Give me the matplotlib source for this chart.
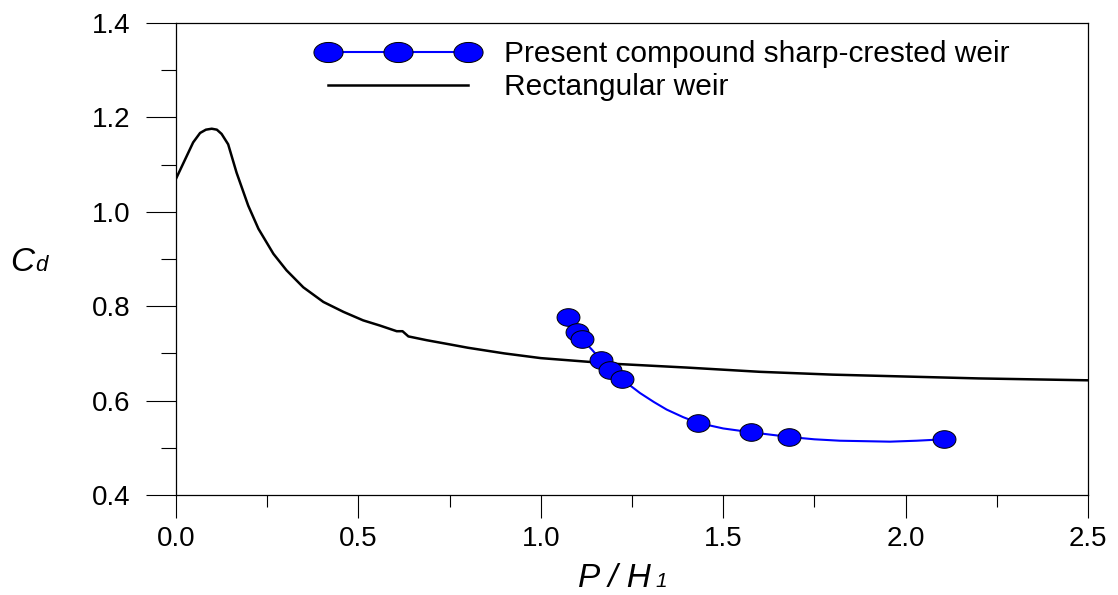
import numpy as np
import matplotlib
matplotlib.use("Agg")
import matplotlib.pyplot as plt
from matplotlib.path import Path
from matplotlib.lines import Line2D
from matplotlib.ticker import MultipleLocator, FormatStrFormatter

plt.rcParams['font.family'] = ['Liberation Sans', 'DejaVu Sans']

# Rectangular weir curve
rect_x = [0.0, 0.047, 0.066, 0.082, 0.098, 0.112, 0.125, 0.143, 0.166, 0.198, 0.226, 0.267,
          0.303, 0.349, 0.404, 0.459, 0.513, 0.559, 0.605, 0.621, 0.637, 0.687,
          0.751, 0.8, 0.9, 1.0, 1.2, 1.4, 1.6, 1.8, 2.0, 2.2, 2.5]
rect_y = [1.07, 1.147, 1.167, 1.174, 1.176, 1.174, 1.165, 1.143, 1.083, 1.013, 0.964, 0.911,
          0.876, 0.840, 0.809, 0.788, 0.770, 0.759, 0.747, 0.747, 0.736, 0.728,
          0.719, 0.712, 0.700, 0.690, 0.678, 0.670, 0.661, 0.655, 0.651, 0.647, 0.643]

# Present compound weir: measured points
pts_x = [1.075, 1.098, 1.112, 1.164, 1.190, 1.222, 1.430, 1.575, 1.681, 2.105]
pts_y = [0.778, 0.745, 0.731, 0.687, 0.664, 0.645, 0.552, 0.534, 0.522, 0.518]

# Present compound weir: fitted curve
fit_x = [1.075, 1.098, 1.112, 1.14, 1.164, 1.19, 1.222, 1.25, 1.272, 1.31, 1.345, 1.39,
         1.43, 1.50, 1.575, 1.681, 1.75, 1.82, 1.89, 1.957, 2.03, 2.105]
fit_y = [0.778, 0.745, 0.731, 0.708, 0.687, 0.664, 0.645, 0.629, 0.616, 0.597, 0.581, 0.565,
         0.553, 0.541, 0.533, 0.523, 0.518, 0.515, 0.514, 0.513, 0.515, 0.518]

legend_labels = ["Present compound sharp-crested weir", "Rectangular weir"]


def ellipse_marker(ratio):
    t = np.linspace(0, 2 * np.pi, 60)
    verts = np.column_stack([ratio * np.cos(t), np.sin(t)])
    return Path(verts, closed=True)

W, H = 1118, 595
fig = plt.figure(figsize=(W / 100, H / 100), dpi=100)
ax = fig.add_axes([176 / W, 1 - 495 / H, (1088 - 176) / W, (495 - 23) / H])

ax.plot(rect_x, rect_y, color='black', lw=1.8, zorder=2)
ax.plot(fit_x, fit_y, color='#0000FF', lw=1.5, zorder=3)
ax.plot(pts_x, pts_y, ls='none', marker=ellipse_marker(1.3), markersize=16.5,
        markerfacecolor='#0000FF', markeredgecolor='black', markeredgewidth=0.7, zorder=4)

ax.set_xlim(0, 2.5)
ax.set_ylim(0.4, 1.4)
ax.xaxis.set_major_locator(MultipleLocator(0.5))
ax.xaxis.set_minor_locator(MultipleLocator(0.25))
ax.yaxis.set_major_locator(MultipleLocator(0.2))
ax.yaxis.set_minor_locator(MultipleLocator(0.1))
ax.xaxis.set_major_formatter(FormatStrFormatter('%.1f'))
ax.yaxis.set_major_formatter(FormatStrFormatter('%.1f'))
ax.tick_params(axis='x', which='major', direction='out', length=16.5, width=0.8, labelsize=20, pad=6)
ax.tick_params(axis='x', which='minor', direction='out', length=8.6, width=0.8)
ax.tick_params(axis='y', which='major', direction='out', length=21.6, width=0.8, labelsize=20, pad=11)
ax.tick_params(axis='y', which='minor', direction='out', length=10.8, width=0.8)
for s in ax.spines.values():
    s.set_linewidth(0.9)

h1 = Line2D([], [], color='#0000FF', lw=1.5, marker=ellipse_marker(1.45), markersize=21,
            markerfacecolor='#0000FF', markeredgecolor='black', markeredgewidth=0.7)
h2 = Line2D([], [], color='black', lw=1.8)
leg = ax.legend([h1, h2], legend_labels, loc='upper left',
                bbox_to_anchor=(319 / W, 1 - 40 / H), bbox_transform=fig.transFigure,
                frameon=False, fontsize=21.5, numpoints=3, handlelength=5.29,
                handletextpad=0.9, labelspacing=0.18, borderpad=0, borderaxespad=0)

# Axis labels with small subscripts
fig.text(10 / W, 1 - 271 / H, "C", fontsize=24, style='italic', ha='left', va='baseline')
fig.text(35 / W, 1 - 271 / H, "d", fontsize=16, style='italic', ha='left', va='baseline')
fig.text(578 / W, 1 - 587 / H, "P / H", fontsize=24, style='italic', ha='left', va='baseline')
fig.text(655 / W, 1 - 587 / H, "1", fontsize=15, style='italic', ha='left', va='baseline')

fig.savefig("out.png", dpi=100)
